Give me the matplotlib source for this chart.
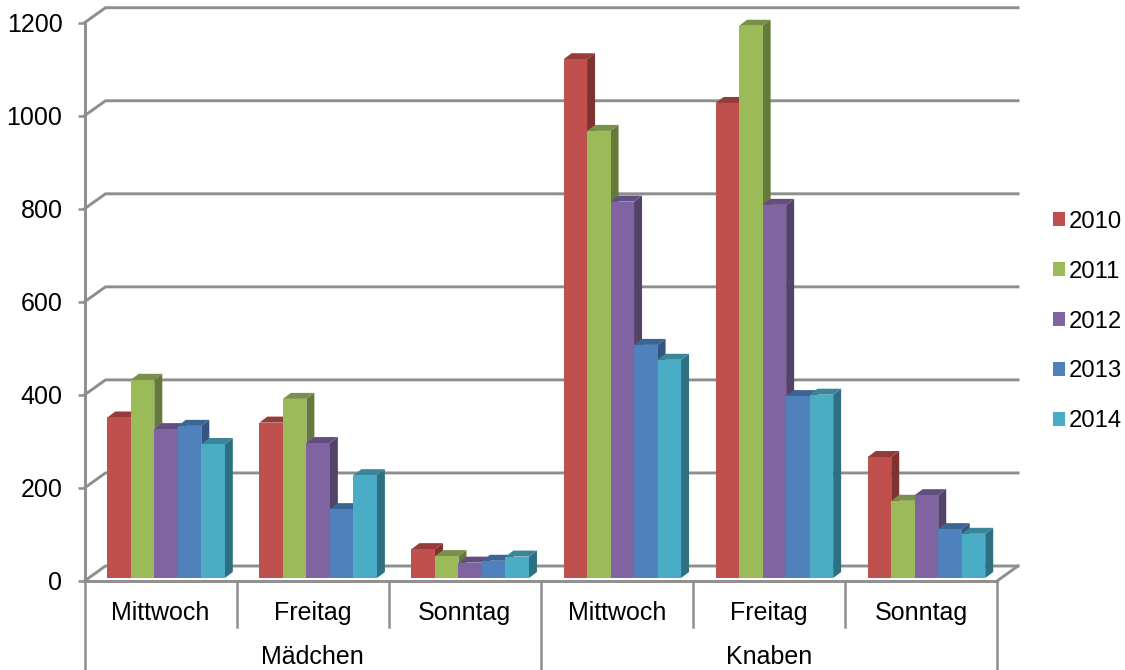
import numpy as np
import matplotlib
matplotlib.use('Agg')
import matplotlib.pyplot as plt
from matplotlib.patches import Patch

plt.rcParams['font.family'] = ['Liberation Sans', 'DejaVu Sans']

# Werte
tage = ['Mittwoch', 'Freitag', 'Sonntag', 'Mittwoch', 'Freitag', 'Sonntag']
gruppen = ['Mädchen', 'Knaben']
jahre = ['2010', '2011', '2012', '2013', '2014']
y2010 = [345, 334, 62, 1115, 1021, 260]
y2011 = [426, 385, 47, 961, 1187, 166]
y2012 = [320, 290, 33, 809, 802, 178]
y2013 = [327, 148, 37, 501, 391, 105]
y2014 = [288, 221, 46, 469, 394, 95]
serien = [y2010, y2011, y2012, y2013, y2014]

front = ['#C0504D', '#9BBB59', '#8064A2', '#4F81BD', '#4BACC6']
top = ['#953C3A', '#789048', '#634E80', '#3D6594', '#3A8599']
side = ['#7F3230', '#657A3A', '#54426B', '#34557D', '#2F6F82']
grey = '#8E8E8E'

W, H = 1125, 670
fig = plt.figure(figsize=(W / 100, H / 100), dpi=100)
x0, x1, y0, y1 = 84.5, 997, 581, 22.7
ax = fig.add_axes([x0 / W, (H - y0) / H, (x1 - x0) / W, (y0 - y1) / H])
ax.set_xlim(0, 6)
ax.set_ylim(0, 1200)

# umrechnung pixel -> daten
px = 6 / (x1 - x0)
py = 1200 / (y0 - y1)

# rueckwand und boden
wall_dx, wall_dy = 21 * px, 15 * py
yticks = [0, 200, 400, 600, 800, 1000, 1200]
for v in yticks:
    ax.plot([0, wall_dx, 6 + wall_dx], [v, v + wall_dy, v + wall_dy],
            color=grey, lw=2.1, clip_on=False, zorder=1)
ax.plot([6, 6 + wall_dx], [0, wall_dy], color=grey, lw=2.1, clip_on=False, zorder=1)

# balken mit seite und deckel
width = 23.5 * px
start = 22.8 * px
lift = 3 * py
dx, dy = 8 * px, 6 * py
for j, werte in enumerate(serien):
    lefts = np.arange(6) + start + j * width
    for l, v in zip(lefts, werte):
        r = l + width
        t = v + lift
        z = 2 + j
        ax.fill([r, r, r + dx, r + dx], [lift, t, t + dy, lift + dy],
                color=side[j], lw=0, clip_on=False, zorder=z)
        ax.fill([l, r, r + dx, l + dx], [t, t, t + dy, t + dy],
                color=top[j], lw=0, clip_on=False, zorder=z)
    ax.bar(lefts, werte, width=width, bottom=lift, align='edge',
           color=front[j], lw=0, zorder=z + 0.5)

# achsen
for s in ['top', 'right']:
    ax.spines[s].set_visible(False)
for s in ['left', 'bottom']:
    ax.spines[s].set_color(grey)
    ax.spines[s].set_linewidth(2.1)
    ax.spines[s].set_zorder(10)
ax.set_yticks(yticks)
ax.tick_params(axis='y', length=5.4, width=1.8, color=grey, pad=10.5,
               labelsize=18, labelcolor='black')
ax.set_xticks([])

# zweistufige kategorieachse
low1 = -46 * py
low2 = -90 * py
for i in range(7):
    ax.plot([i, i], [0, low2 if i % 3 == 0 else low1], color=grey, lw=1.8,
            clip_on=False, zorder=1)
for i, tag in enumerate(tage):
    ax.text(i + 0.5, -32 * py, tag, ha='center', va='center', fontsize=18)
for i, g in enumerate(gruppen):
    ax.text(1.5 + 3 * i, -76 * py, g, ha='center', va='center', fontsize=18)

handles = [Patch(facecolor=c, edgecolor='none') for c in front]
ax.legend(handles, jahre, loc='center left', frameon=False,
          bbox_to_anchor=(1053 / W, (H - 321.5) / H), bbox_transform=fig.transFigure,
          fontsize=17.2, borderpad=0, borderaxespad=0, labelspacing=1.17,
          handlelength=0.5, handleheight=0.5, handletextpad=0.17)

fig.savefig('out.png', dpi=100)
